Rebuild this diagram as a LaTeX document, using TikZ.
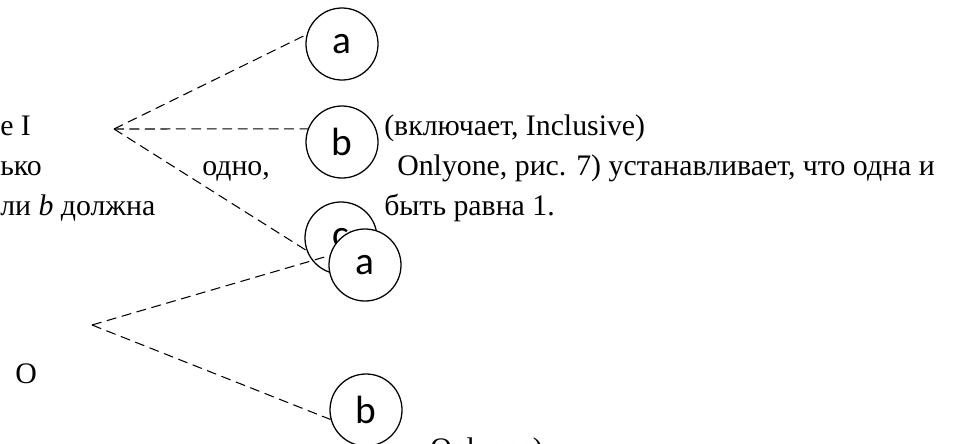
\documentclass[tikz,border=0pt]{standalone}
\usepackage{fontspec}
\setmainfont{Liberation Serif}
\newfontfamily\circfont{Carlito}
\begin{document}
\begin{tikzpicture}[x=0.025cm,y=-0.025cm]
  \tikzset{tree circle/.style={draw,circle,line width=0.9pt,fill=white,minimum size=1.8cm,inner sep=0pt,font=\circfont\fontsize{28}{28}\selectfont},
           branch/.style={dash pattern=on 7pt off 4pt,line width=0.75pt},
           body text/.style={anchor=base west,inner sep=0pt,font=\fontsize{21.2}{24}\selectfont}}
  \useasboundingbox (0,0) rectangle (957,443);
  \clip (0,0) rectangle (957,443);

  \node [body text] (T1) at (0,135) {е I};
  \node [body text] (T2) at (0,175) {ько};
  \node [body text] (T3) at (0,215) {ли \textit{b} должна};
  \node [body text] (T4) at (202,175) {одно,};
  \node [body text] (T5) at (384,135) {(включает, Inclusive)};
  \node [body text] (T6) at (397,175) {Onlyone, рис. 7) устанавливает, что одна и};
  \node [body text] (T7) at (384,215) {быть равна 1.};
  \node [body text] (T8) at (15,383) {O};
  \node [body text] (T9) at (430,458) {Onlyone)};

  \coordinate (R1) at (114,129);
  \coordinate (R2) at (92,325);
  \node [tree circle] (A1) at (342,44) {a};
  \node [tree circle] (B1) at (342,142) {b};
  \node [tree circle,draw=none,fill=none] (C1) at (341,238) {};
  \draw [branch] (R1) -- (A1.165);
  \draw [branch] (R1) -- (B1.159);
  \draw [branch] (R1) -- (C1.200);
  \node [tree circle] at (C1) {c};
  \node [tree circle,draw=none,fill=none] (A2) at (365,265) {};
  \node [tree circle,draw=none,fill=none] (B2) at (366,410) {};
  \draw [branch] (R2) -- (A2.165);
  \draw [branch] (R2) -- (B2.195);
  \node [tree circle] at (A2) {a};
  \node [tree circle] at (B2) {b};
\end{tikzpicture}
\end{document}
